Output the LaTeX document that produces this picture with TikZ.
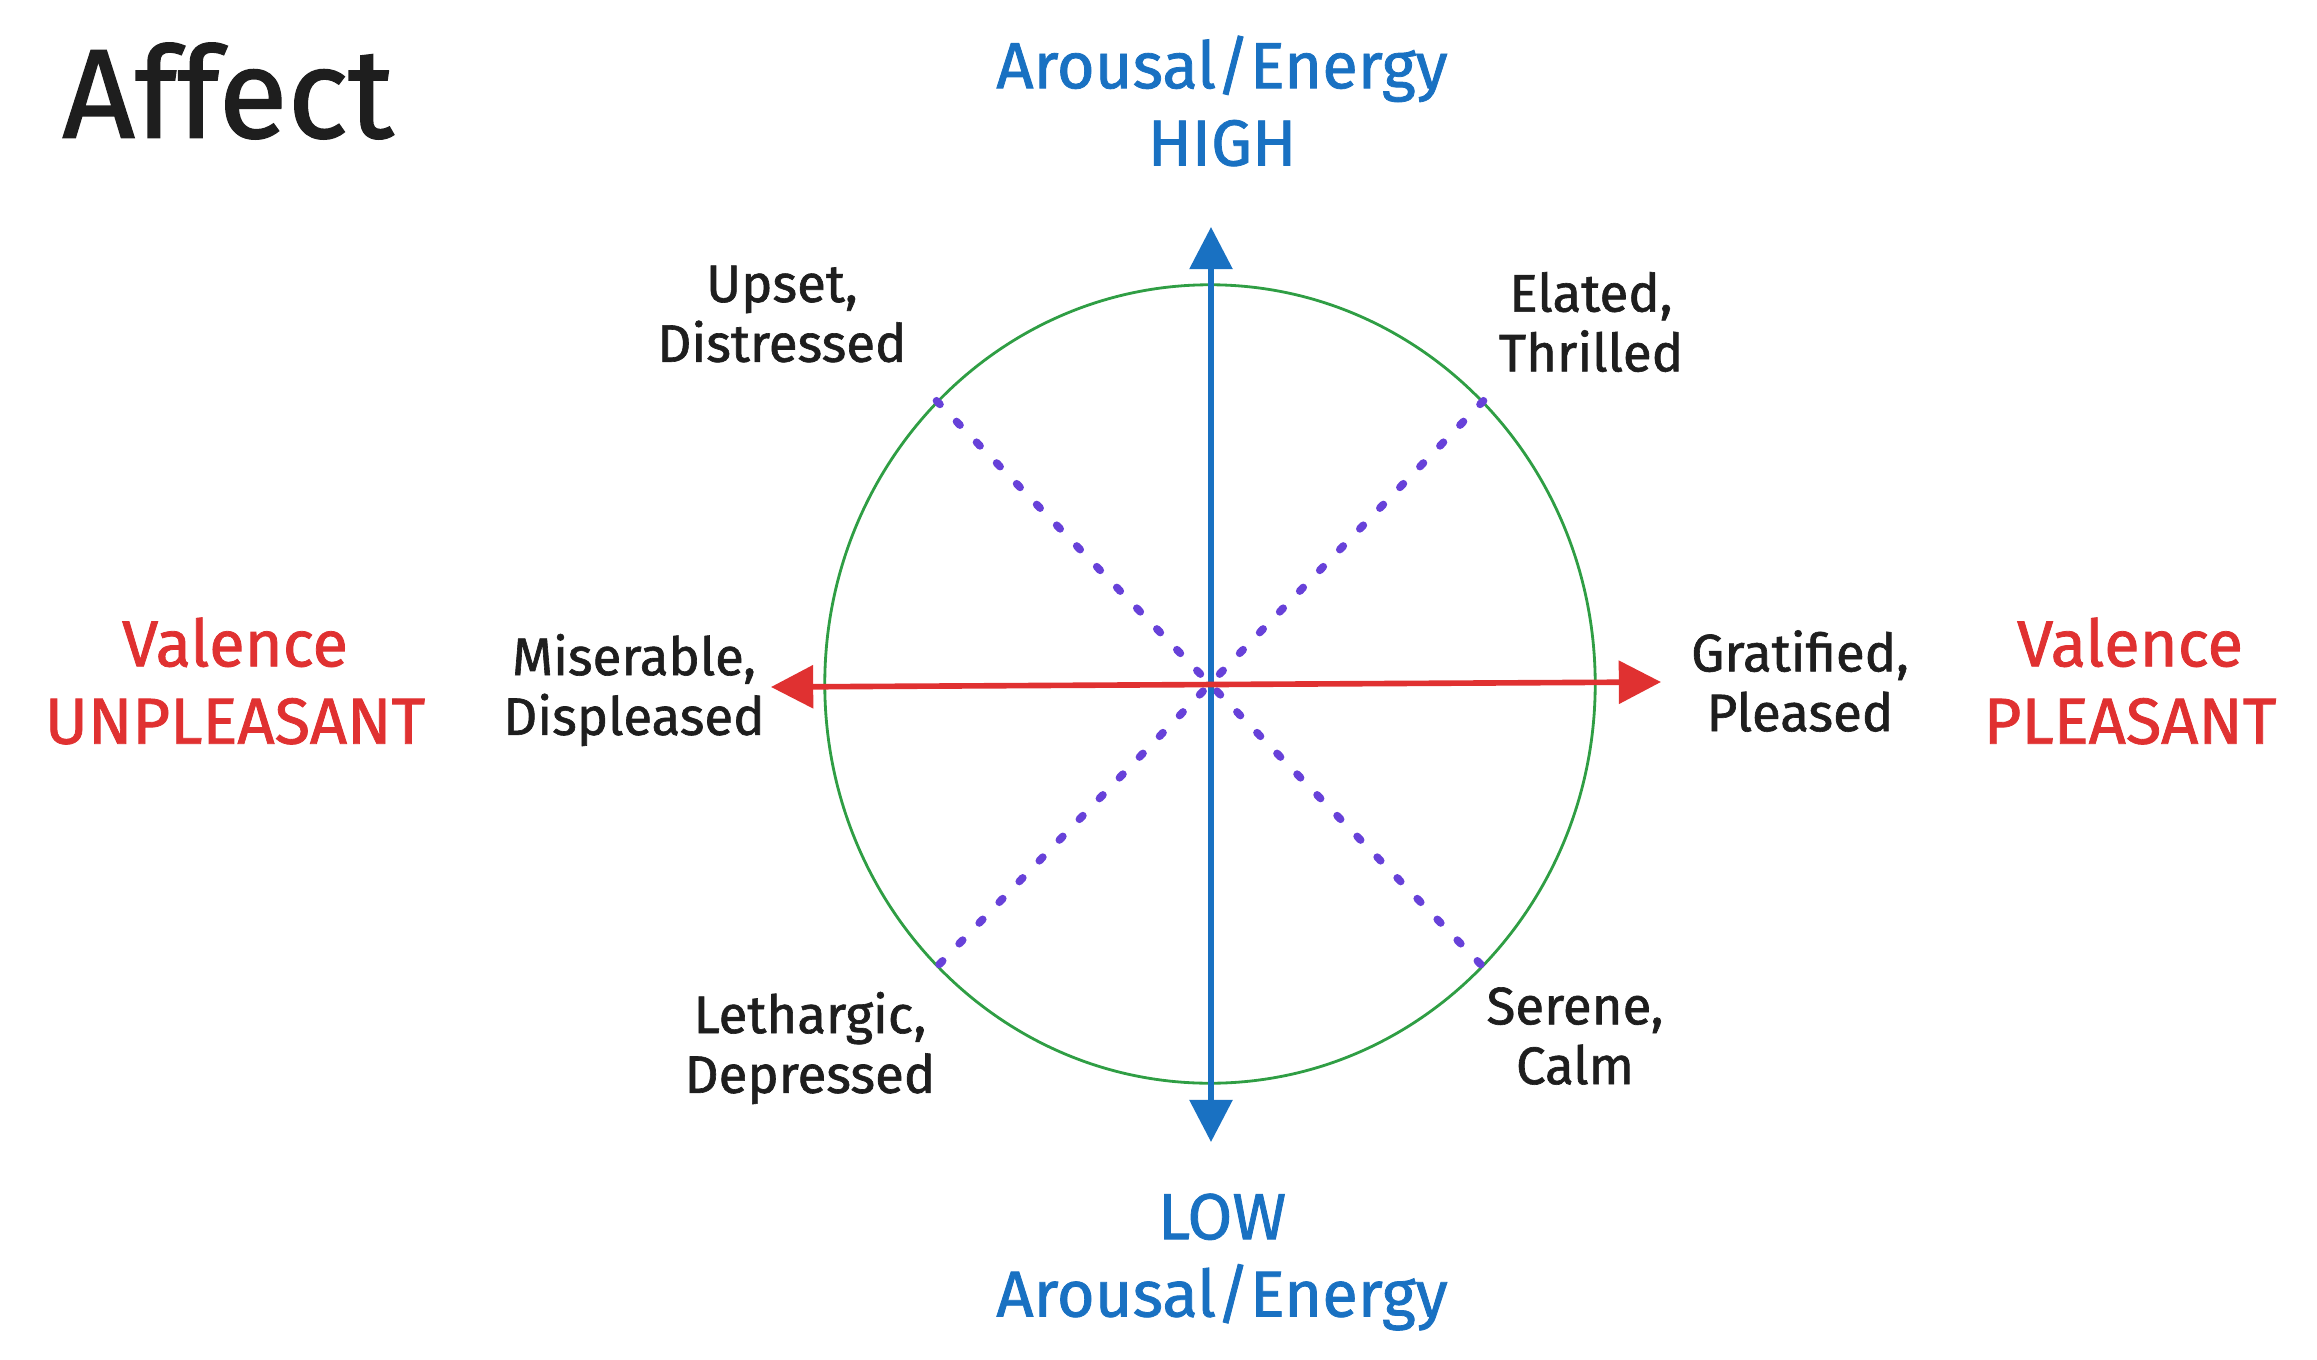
\documentclass[tikz,border=0pt]{standalone}
\usepackage{fontspec}
\setmainfont{Fira Sans}[FakeBold=1.2]
\usetikzlibrary{arrows.meta,shapes.geometric}
\definecolor{moodblack}{HTML}{1E1E1E}
\definecolor{arousalblue}{HTML}{1971C2}
\definecolor{valencered}{HTML}{E03131}
\definecolor{ringgreen}{HTML}{2F9E44}
\definecolor{diagviolet}{HTML}{6741D9}

\begin{document}
\begin{tikzpicture}[
	x=0.01cm, y=-0.01cm,
	mood/.style = {
		align=center,
		inner sep=0pt,
		text=moodblack,
		font=\fontsize{15}{17}\selectfont,
	},
	arousal/.style = {
		align=center,
		inner sep=0pt,
		text=arousalblue,
		font=\fontsize{18.5}{22}\selectfont,
	},
	valence/.style = {arousal, text=valencered},
	axis/.style = {
		line width=1.6pt,
		{Triangle[length=12pt,width=12pt]}-{Triangle[length=12pt,width=12pt]},
	},
	diag/.style = {
		draw=diagviolet,
		line width=2.2pt,
		line cap=round,
		dash pattern=on 1.4pt off 6.8pt,
	},
]

\useasboundingbox (0,0) rectangle (2317,1360);

% Title
\node [inner sep=0pt, text=moodblack, font=\fontsize{36}{42}\selectfont] (title) at (228,91) {Affect};

% Circle
\node [
	ellipse,draw=ringgreen,
	line width=0.8pt,
	inner sep=0pt,
	minimum width=7.7cm,
	minimum height=7.98cm,
] (ring) at (1210,684) {};

% Diagonals
\draw[diag] (ring.134) -- (ring.-46);
\draw[diag] (ring.46) -- (ring.226);

% Axes
\coordinate (high) at (1211,227);
\coordinate (low) at (1211,1142);
\coordinate (unpleasant) at (771,687);
\coordinate (pleasant) at (1661,682);
\draw[axis, arousalblue] (low) -- (high);
\draw[axis, valencered] (unpleasant) -- (pleasant);

% Axis labels
\node [arousal] (arhigh) at (1222,101) {Arousal/Energy\\HIGH};
\node [arousal] (arlow) at (1222,1262) {LOW\\Arousal/Energy};
\node [valence] (valunp) at (235,681) {Valence\\UNPLEASANT};
\node [valence] (valple) at (2130,681) {Valence\\PLEASANT};

% Moods
\node [mood] (upset) at (782,314) {Upset,\\Distressed};
\node [mood] (elated) at (1591,322) {Elated,\\Thrilled};
\node [mood] (miserable) at (634,690) {Miserable,\\Displeased};
\node [mood] (gratified) at (1800,681) {Gratified,\\Pleased};
\node [mood] (lethargic) at (810,1048) {Lethargic,\\Depressed};
\node [mood] (serene) at (1575,1036) {Serene,\\Calm};

\end{tikzpicture}
\end{document}
